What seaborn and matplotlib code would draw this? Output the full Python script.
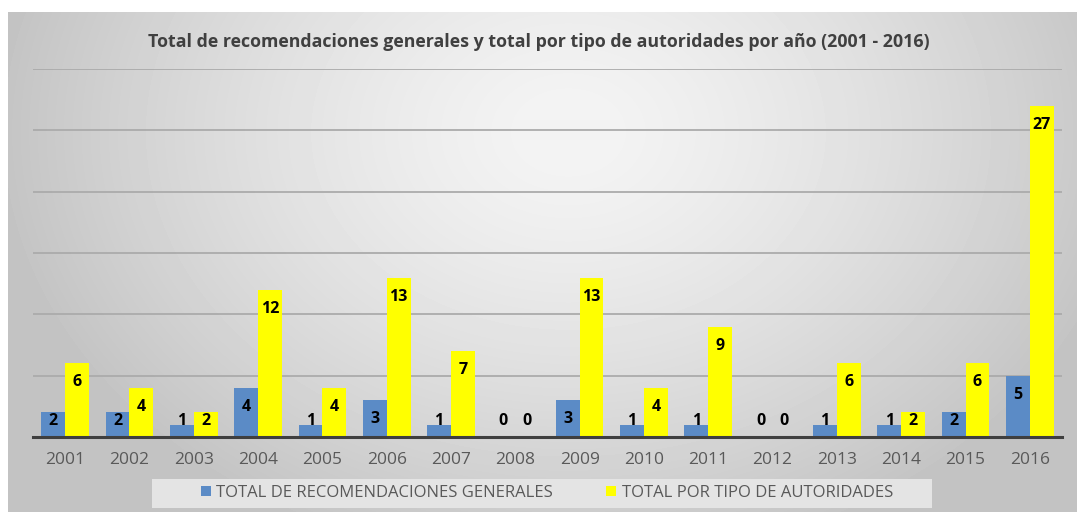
import numpy as np
import pandas as pd
import seaborn as sns
import matplotlib.pyplot as plt
from matplotlib.patches import Rectangle

years = ["2001", "2002", "2003", "2004", "2005", "2006", "2007", "2008",
         "2009", "2010", "2011", "2012", "2013", "2014", "2015", "2016"]
recomendaciones = [2, 2, 1, 4, 1, 3, 1, 0, 3, 1, 1, 0, 1, 1, 2, 5]
autoridades = [6, 4, 2, 12, 4, 13, 7, 0, 13, 4, 9, 0, 6, 2, 6, 27]
series_names = ["TOTAL DE RECOMENDACIONES GENERALES", "TOTAL POR TIPO DE AUTORIDADES"]
colors = ["#5b8bc6", "#ffff00"]

df = pd.DataFrame({
    "year": years * 2,
    "value": recomendaciones + autoridades,
    "serie": [series_names[0]] * len(years) + [series_names[1]] * len(years),
})

sns.set_theme(style="white")
plt.rcParams["font.family"] = ["Open Sans", "DejaVu Sans"]

W, H = 1077, 512
fig = plt.figure(figsize=(W / 100, H / 100), dpi=100)
fig.patch.set_facecolor("white")

# fondo con degradado radial (claro arriba al centro, gris en los bordes)
bg = fig.add_axes([8 / W, 0, 1 - 8 / W, (H - 12) / H])
bg.set_zorder(-5)
yy, xx = np.mgrid[0:500, 0:1069]
r = np.sqrt(((xx - 560) / 600.0) ** 2 + ((yy - 120) / 460.0) ** 2)
shade = np.clip(244 - 52 * r ** 1.4, 196, 246) / 255.0
bg.imshow(shade, cmap="gray", vmin=0, vmax=1, aspect="auto", interpolation="bilinear")
bg.axis("off")

# caja de la leyenda
fig.add_artist(Rectangle((152 / W, (H - 508) / H), (932 - 152) / W, 29 / H,
                         transform=fig.transFigure, facecolor="#e4e4e4",
                         edgecolor="none", zorder=0))

ax = fig.add_axes([33 / W, (H - 437) / H, (1062 - 33) / W, 368 / H])
ax.set_facecolor("none")
ax.set_zorder(2)

sns.barplot(data=df, x="year", y="value", hue="serie", palette=colors,
            width=0.74, gap=0, saturation=1, linewidth=0, ax=ax, zorder=3)

ax.set_ylim(0, 30)
ax.set_xlim(-0.5, 15.5)
ax.set_yticks([5, 10, 15, 20, 25, 30])
ax.yaxis.grid(True, color="#ababab", linewidth=1.3, zorder=0)
ax.set_axisbelow(True)
ax.tick_params(axis="y", left=False, labelleft=False)
ax.tick_params(axis="x", bottom=False, labelsize=12.5, labelcolor="#595959", pad=5)
for s in ["top", "right", "left"]:
    ax.spines[s].set_visible(False)
ax.spines["bottom"].set_color("#3f3f3f")
ax.spines["bottom"].set_linewidth(2.2)
ax.spines["bottom"].set_zorder(5)
ax.set_xlabel("")
ax.set_ylabel("")

# etiquetas de datos dentro de las barras
for cont, vals in zip(ax.containers, [recomendaciones, autoridades]):
    for bar, v in zip(cont, vals):
        cx = bar.get_x() + bar.get_width() / 2
        ax.text(cx, max(v - 1.55, 1.3), str(v), ha="center", va="center",
                fontsize=11.5, fontweight="bold", color="black", zorder=6)

fig.text(0.5, 1 - 42 / H, "Total de recomendaciones generales y total por tipo de autoridades por año (2001 - 2016)",
         ha="center", va="center", fontsize=12.8, fontweight="bold", color="#404040")

sns.move_legend(ax, "center", bbox_to_anchor=((547 - 33) / 1029, (437 - 493) / 368), ncol=2,
                title=None, frameon=False, fontsize=12, handlelength=0.6, handleheight=0.6,
                columnspacing=3.2, handletextpad=0.35)
leg = ax.get_legend()
for t in leg.get_texts():
    t.set_color("#595959")

fig.savefig("out.png", dpi=100)
